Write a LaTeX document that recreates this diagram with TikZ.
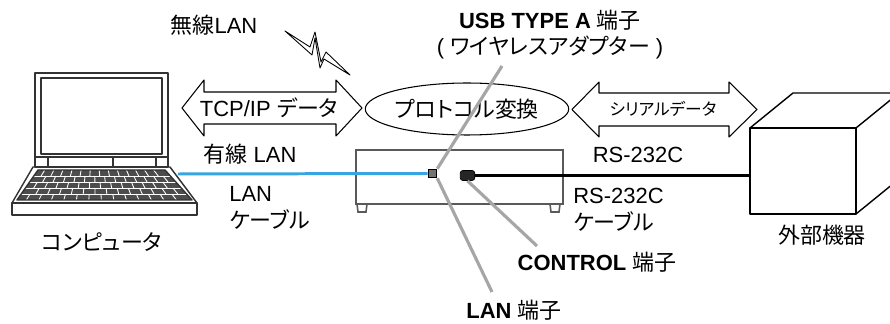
\documentclass[tikz,border=0pt]{standalone}
\usepackage{fontspec}
\setmainfont{Liberation Sans}
\newfontfamily\jp[RawFeature=+palt]{Noto Sans CJK JP}
\newcommand\ja[1]{{\jp #1}}
\usetikzlibrary{calc,shapes.geometric}

\begin{document}
\begin{tikzpicture}[
	x=0.02cm, y=-0.02cm,
	bordo/.style={line width=0.6pt, black, line join=round},
	scocca/.style={line width=0.8pt, black!80, line join=round},
	cassa/.style={line width=0.9pt, black!65},
	tasto/.style={line width=0.5pt, white},
	cavolan/.style={line width=1.7pt, cyan!80!blue!80!white},
	cavoser/.style={line width=1.6pt, black},
	guida/.style={line width=1.8pt, black!35},
	testo/.style={font=\fontsize{12.5}{15.5}\selectfont, inner sep=0pt},
	piccolo/.style={font=\fontsize{9.5}{11}\selectfont, inner sep=0pt},
	porta/.style={draw=black, fill=black!55, line width=0.6pt,
		inner sep=0pt, minimum size=0.17cm},
	portac/.style={draw=black, fill=black!85, rounded corners=1.5pt,
		inner sep=0pt, minimum width=0.29cm, minimum height=0.2cm},
	]
	\useasboundingbox (0,0) rectangle (890,324);
	
	%% ── computer ───────────────────────────────────────────
	\draw[scocca] (35,73) rectangle (168,167);
	\draw[scocca] (41,78) rectangle (162,154);
	\draw[scocca] (35,157)--(168,157);
	\foreach \xx in {48,113,156}
	\draw[scocca] (\xx,157)--(\xx,167);
	\draw[scocca] (33,167)--(170,167)--(197,203)--(12,203)--cycle;
	\draw[scocca] (12,203) rectangle (197,215);
	\coordinate (kA) at (38,170);
	\coordinate (kB) at (165,170);
	\coordinate (kC) at (192,200);
	\coordinate (kD) at (17,200);
	\fill[black!70] (kA)--(kB)--(kC)--(kD)--cycle;
	\foreach \r in {1,...,4}
	\draw[tasto] ($(kA)!{\r/5}!(kD)$)--($(kB)!{\r/5}!(kC)$);
	\foreach \r in {0,...,4}
	\foreach \c in {1,...,13} {
		\pgfmathsetmacro\u{(\c+mod(\r,2)*0.5-0.25)/14}
		\coordinate (la) at ($(kA)!{\r/5}!(kD)$);
		\coordinate (ra) at ($(kB)!{\r/5}!(kC)$);
		\coordinate (lb) at ($(kA)!{(\r+1)/5}!(kD)$);
		\coordinate (rb) at ($(kB)!{(\r+1)/5}!(kC)$);
		\draw[tasto] ($(la)!\u!(ra)$)--($(lb)!\u!(rb)$);
	}
	\draw[scocca] (kA)--(kB)--(kC)--(kD)--cycle;
	\coordinate (pcp) at (178,174);
	\node[testo] (pc) at (102,242) {\ja{コンピュータ}};
	
	%% ── proiettore ─────────────────────────────────────────
	\draw[cassa] (356,150) rectangle (563,204);
	\draw[cassa] (357,204)--(358,212)--(366,212)--(367,204);
	\draw[cassa] (550,204)--(551,212)--(559,212)--(560,204);
	\node[porta] (lanp) at (432.5,173.5) {};
	\node[portac] (ctrlp) at (467.5,175.5) {};
	
	%% ── dispositivo esterno ────────────────────────────────
	\draw[scocca, black] (750,128) rectangle (856,214);
	\draw[scocca, black] (750,128)--(793,93)--(905,93);
	\draw[scocca, black] (856,128)--(899,93);
	\draw[scocca, black] (856,214)--(899,179);
	\coordinate (devw) at (750,175);
	\node[testo] (dev) at (822,235) {\ja{外部機器}};
	
	%% ── cavi ───────────────────────────────────────────────
	\draw[cavolan] (pcp)--(lanp.west);
	\draw[cavoser] (ctrlp.east)--(ctrlp.east -| devw);
	
	%% ── frecce e conversione ───────────────────────────────
	\draw[bordo] (182,108)--(204,80)--(204,92)--(336,92)--(336,80)--(362,108)
	--(336,136)--(336,124)--(204,124)--(204,136)--cycle;
	\node[testo] (tcp) at (269,108) {TCP/IP \ja{データ}};
	\node[draw, ellipse, bordo, testo, minimum width=4cm, minimum height=1.04cm]
	(conv) at (467,109) {\ja{プロトコル変換}};
	\draw[bordo] (572,109.5)--(599,82)--(599,93)--(729,93)--(729,82)--(757,109.5)
	--(729,137)--(729,126)--(599,126)--(599,137)--cycle;
	\node[piccolo] (ser) at (663,109) {\ja{シリアルデータ}};
	
	%% ── wireless ───────────────────────────────────────────
	\draw[bordo, line width=0.5pt] (285,31)--(312,55)--(315,38)--(320,68)--(324,59)
	--(350,75)--(326,52)--(321,62)--(315,32)--(310,47)--cycle;
	\node[testo] (wlan) at (214,25) {\ja{無線}LAN};
	
	%% ── etichette ──────────────────────────────────────────
	\node[testo] (usb) at (550,20) {\textbf{USB TYPE A} \ja{端子}};
	\node[testo] (wifi) at (550,47) {( \ja{ワイヤレスアダプター} )};
	\node[testo] (wired) at (250,154) {\ja{有線} LAN};
	\node[testo, align=left, anchor=west] (lanc) at (229,208) {LAN\\\ja{ケーブル}};
	\node[testo] (rs) at (638,155) {RS-232C};
	\node[testo, align=left, anchor=west] (rsc) at (573,210) {RS-232C\\\ja{ケーブル}};
	\node[testo] (ctrl) at (597,262) {\textbf{CONTROL} \ja{端子}};
	\node[testo] (lant) at (514,310) {\textbf{LAN} \ja{端子}};
	
	%% ── linee di richiamo ──────────────────────────────────
	\coordinate (usbg) at (502,66);
	\coordinate (lang) at (492,292);
	\coordinate (ctrlg) at (537,246);
	\draw[guida] (usbg)--(lanp.north east);
	\draw[guida] (lanp.south east)--(lang);
	\draw[guida] (ctrlp.south)--(ctrlg);
\end{tikzpicture}
\end{document}
